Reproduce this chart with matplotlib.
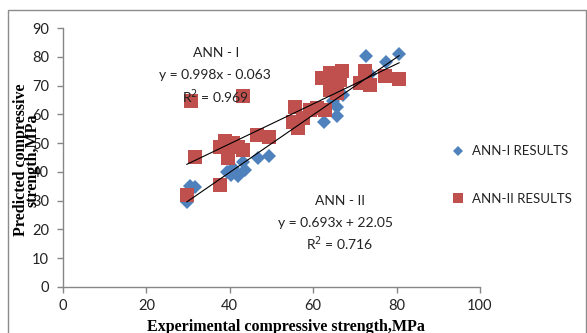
import matplotlib
matplotlib.use("Agg")
import matplotlib.pyplot as plt
from matplotlib.patches import Rectangle
import numpy as np

# ---- data ----
ann1_x = [30.5, 31.7, 29.7, 39.3, 40.8, 43.2, 43.6, 42.0, 40.4, 46.8, 49.5,
          62.6, 65.6, 65.6, 64.8, 67.2, 72.7, 77.4, 80.6, 73.7]
ann1_y = [35.2, 34.9, 29.7, 40.1, 41.3, 43.6, 40.7, 38.4, 39.0, 44.8, 45.6,
          57.5, 59.5, 62.7, 64.5, 66.8, 80.1, 78.2, 81.0, 74.0]

ann2_x = [30.6, 43.2, 31.7, 29.7, 37.6, 38.8, 40.8, 37.6, 39.6, 43.2, 39.6, 42.0,
          46.6, 49.5, 55.6, 55.2, 56.4, 57.6, 59.2, 60.8, 62.8, 62.0, 64.0, 64.8,
          64.0, 66.8, 66.4, 65.6, 71.2, 72.4, 73.6, 77.2, 80.6]
ann2_y = [64.5, 66.4, 45.1, 32.0, 35.5, 50.6, 50.0, 48.8, 47.7, 47.7, 44.8, 48.8,
          52.9, 52.1, 62.7, 57.5, 55.2, 58.7, 61.6, 62.2, 61.6, 72.6, 74.4, 70.8,
          68.5, 75.0, 72.0, 67.4, 70.8, 75.0, 70.3, 73.4, 72.2]

ann1_fit = [0.998, -0.063]
ann2_fit = [0.693, 22.05]

x_ticks = [0, 20, 40, 60, 80, 100]
y_ticks = [0, 10, 20, 30, 40, 50, 60, 70, 80, 90]

series_labels = ["ANN-I RESULTS", "ANN-II RESULTS"]

# ---- figure ----
W, H = 587, 333
fig = plt.figure(figsize=(W / 100, H / 100), dpi=100)
plt.rcParams['font.family'] = ['Lato', 'DejaVu Sans']

def fx(px):
    return px / W

def fy(py):
    return 1 - py / H

# outer chart border
fig.patches.append(Rectangle((fx(8), fy(345)), fx(578), (345 - 10) / H,
                             transform=fig.transFigure, fill=False,
                             edgecolor='#8c8c8c', linewidth=1.0))

ax = fig.add_axes([fx(63), fy(287), fx(480) - fx(63), fy(28) - fy(287)])

blue = '#4F81BD'
red = '#C0504D'

ax.plot(ann1_x, ann1_y, linestyle='none', marker='D', markersize=7,
        color=blue, markeredgewidth=0, label=series_labels[0], zorder=3)
ax.plot(ann2_x, ann2_y, linestyle='none', marker='s', markersize=9.5,
        color=red, markeredgewidth=0, label=series_labels[1], zorder=4)

for xs, coef in ((ann1_x, ann1_fit), (ann2_x, ann2_fit)):
    xx = np.array([min(xs), max(xs)])
    ax.plot(xx, np.polyval(coef, xx), color='black', linewidth=0.8, zorder=5)

ax.set_xlim(0, 100)
ax.set_ylim(0, 90)
ax.set_xticks(x_ticks)
ax.set_yticks(y_ticks)
for s in ('top', 'right'):
    ax.spines[s].set_visible(False)
for s in ('left', 'bottom'):
    ax.spines[s].set_color('#868686')
    ax.spines[s].set_linewidth(1.0)
ax.tick_params(axis='both', direction='out', length=4, width=1.0,
               color='#868686', labelsize=10.5, labelcolor='#222222')
ax.tick_params(axis='x', pad=5)
ax.tick_params(axis='y', pad=6)

# equations
tkw = dict(ha='center', va='center', fontsize=10, color='#222222')
fig.text(fx(216), fy(53), "ANN - I", **tkw)
fig.text(fx(215), fy(75), "y = 0.998x - 0.063", **tkw)
fig.text(fx(216), fy(97), "R$^2$ = 0.969", **tkw)
fig.text(fx(340), fy(201), "ANN - II", **tkw)
fig.text(fx(336), fy(223), "y = 0.693x + 22.05", **tkw)
fig.text(fx(340), fy(244), "R$^2$ = 0.716", **tkw)

# axis labels
serif = dict(family=['Liberation Serif', 'DejaVu Serif'], weight='bold',
             fontsize=11.5, color='black')
fig.text(fx(286), fy(327), "Experimental compressive strength,MPa",
         ha='center', va='center', **serif)
fig.text(fx(27), fy(160), "Predicted compressive\nstrength,MPa",
         ha='center', va='center', rotation=90, linespacing=0.6, **serif)

# legend
leg = fig.legend(handles=ax.get_lines()[:2], labels=series_labels,
                 loc='center left', bbox_to_anchor=(fx(440), fy(175)),
                 frameon=False, fontsize=9.5, handlelength=1.0,
                 handletextpad=0.5, labelspacing=2.7, markerscale=0.7)
for t in leg.get_texts():
    t.set_color('#222222')

fig.savefig("out.png", dpi=100)
